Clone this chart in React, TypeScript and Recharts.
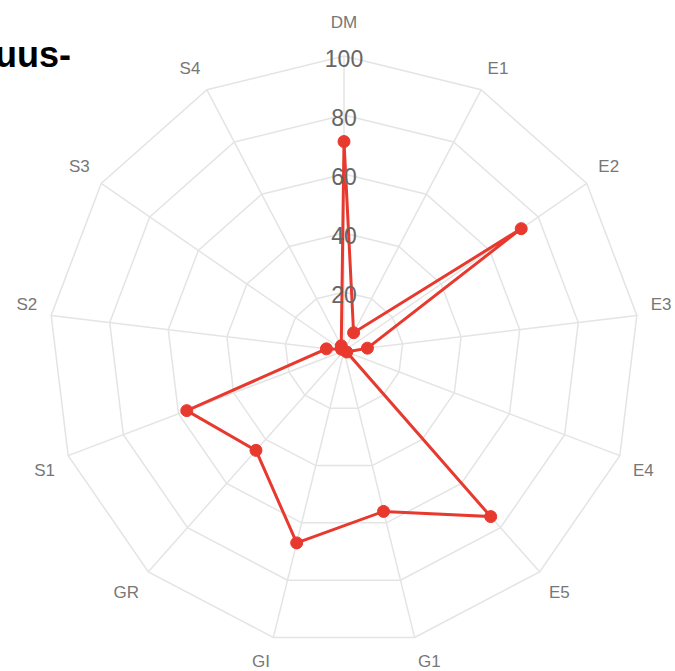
import { PolarAngleAxis, PolarGrid, PolarRadiusAxis, Radar, RadarChart } from "recharts"

const axes = ["DM", "E1", "E2", "E3", "E4", "E5", "G1", "GI", "GR", "S1", "S2", "S3", "S4"]
const values = [71, 7, 73, 8, 1, 75, 56, 67, 45, 57, 6, 1, 2]
const radiusTicks = [0, 20, 40, 60, 80, 100]

const data = axes.map((axis, i) => ({ axis, value: values[i] }))

const CX = 344
const CY = 351
const R = 295
const RED = "#e8392e"

function AngleTick(props: any) {
  const { payload } = props
  const a = (-payload.coordinate * Math.PI) / 180
  const dx = Math.cos(a)
  const dy = Math.sin(a)
  const r = R + 14
  const x = CX + r * dx
  let y = CY + r * dy
  // anchor away from the centre, like the original
  const anchor = dx > 0.05 ? "start" : dx < -0.05 ? "end" : "middle"
  if (dy < -0.95) y -= 20
  else if (dy < 0) y -= 9
  else y += 10
  return (
    <text x={x} y={y} textAnchor={anchor} dominantBaseline="central" fontSize={17} fill="#777" fontFamily="Liberation Sans, Arial, sans-serif">
      {payload.value}
    </text>
  )
}

function RadiusTick(props: any) {
  const { x, y, payload } = props
  if (payload.value === 0) return null
  return (
    <text x={x} y={y + 2.5} textAnchor="middle" dominantBaseline="central" fontSize={23} fill="#666" fontFamily="Liberation Sans, Arial, sans-serif">
      {payload.value}
    </text>
  )
}

export default function App() {
  return (
    <div style={{ position: "fixed", left: 0, top: 0, width: 675, height: 671, background: "#fff", overflow: "hidden" }}>
      <RadarChart
        width={675}
        height={671}
        data={data}
        cx={CX}
        cy={CY}
        outerRadius={R}
        margin={{ top: 0, right: 0, bottom: 0, left: 0 }}
      >
        <PolarGrid gridType="polygon" stroke="#e4e4e4" strokeWidth={1.5} />
        <PolarAngleAxis dataKey="axis" tick={<AngleTick />} tickLine={false} axisLine={false} />
        <PolarRadiusAxis
          angle={90}
          domain={[0, 100]}
          ticks={radiusTicks as any}
          tickCount={6}
          axisLine={false}
          tick={<RadiusTick />}
        />
        <Radar
          dataKey="value"
          stroke={RED}
          strokeWidth={3}
          fill="none"
          fillOpacity={0}
          dot={{ r: 6, fill: RED, stroke: RED, strokeWidth: 1, fillOpacity: 1 }}
          isAnimationActive={false}
        />
      </RadarChart>
      <svg width={675} height={671} style={{ position: "absolute", left: 0, top: 0, pointerEvents: "none" }}>
        <text x={-5} y={67} fontSize={36} fontWeight="bold" fill="#000" fontFamily="Liberation Sans, Arial, sans-serif">
          uus-
        </text>
      </svg>
    </div>
  )
}
